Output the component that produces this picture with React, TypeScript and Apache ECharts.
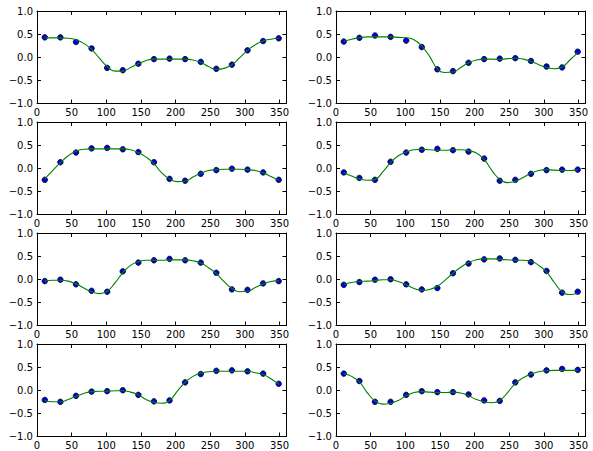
import React, { useEffect, useRef } from "react";
import * as echarts from "echarts";

const X_DOTS = [11.25, 33.75, 56.25, 78.75, 101.25, 123.75, 146.25, 168.75, 191.25, 213.75, 236.25, 258.75, 281.25, 303.75, 326.25, 348.75];
const X_CURVE = [11.25, 22.5, 33.75, 45, 56.25, 67.5, 78.75, 90, 101.25, 112.5, 123.75, 135, 146.25, 157.5, 168.75, 180, 191.25, 202.5, 213.75, 225, 236.25, 247.5, 258.75, 270, 281.25, 292.5, 303.75, 315, 326.25, 337.5, 348.75];

const X_TICKS = [0, 50, 100, 150, 200, 250, 300, 350];
const Y_TICKS = [-1.0, -0.5, 0.0, 0.5, 1.0];

const dots1 = [0.43, 0.43, 0.33, 0.19, -0.23, -0.28, -0.14, -0.04, -0.03, -0.04, -0.10, -0.25, -0.16, 0.15, 0.35, 0.41];
const dots2 = [0.34, 0.42, 0.47, 0.44, 0.36, 0.22, -0.26, -0.30, -0.12, -0.04, -0.03, -0.02, -0.08, -0.20, -0.22, 0.12];
const dots3 = [-0.25, 0.13, 0.34, 0.43, 0.44, 0.41, 0.35, 0.13, -0.23, -0.27, -0.12, -0.04, -0.01, -0.03, -0.09, -0.25];
const dots4 = [-0.09, -0.21, -0.25, 0.14, 0.34, 0.40, 0.42, 0.39, 0.36, 0.21, -0.27, -0.25, -0.12, -0.04, -0.03, -0.03];
const dots5 = [-0.04, -0.01, -0.11, -0.25, -0.27, 0.17, 0.36, 0.41, 0.44, 0.41, 0.36, 0.14, -0.22, -0.23, -0.09, -0.04];
const dots6 = [-0.12, -0.06, -0.01, 0.0, -0.11, -0.22, -0.19, 0.13, 0.34, 0.43, 0.45, 0.42, 0.37, 0.18, -0.29, -0.27];
const dots7 = [-0.21, -0.25, -0.12, -0.03, -0.02, 0.0, -0.10, -0.24, -0.22, 0.17, 0.35, 0.42, 0.43, 0.41, 0.36, 0.14];
const dots8 = [0.36, 0.20, -0.25, -0.25, -0.10, -0.02, -0.04, -0.04, -0.09, -0.22, -0.23, 0.17, 0.34, 0.43, 0.46, 0.44];

const curve1 = [0.42, 0.42, 0.42, 0.41, 0.38, 0.30, 0.17, -0.02, -0.20, -0.30, -0.30, -0.22, -0.14, -0.07, -0.04, -0.04, -0.04, -0.04, -0.04, -0.06, -0.11, -0.20, -0.26, -0.24, -0.16, -0.01, 0.15, 0.27, 0.35, 0.39, 0.41];
const curve2 = [0.34, 0.39, 0.42, 0.44, 0.44, 0.44, 0.44, 0.43, 0.42, 0.38, 0.24, 0.02, -0.25, -0.33, -0.32, -0.22, -0.12, -0.06, -0.04, -0.04, -0.05, -0.03, -0.02, -0.04, -0.09, -0.16, -0.22, -0.25, -0.21, -0.06, 0.10];
const curve3 = [-0.23, -0.05, 0.12, 0.27, 0.37, 0.41, 0.42, 0.42, 0.42, 0.42, 0.42, 0.40, 0.34, 0.24, 0.10, -0.10, -0.23, -0.29, -0.28, -0.19, -0.11, -0.05, -0.03, -0.02, -0.02, -0.02, -0.03, -0.05, -0.10, -0.18, -0.25];
const curve4 = [-0.09, -0.17, -0.23, -0.26, -0.24, -0.08, 0.12, 0.27, 0.35, 0.40, 0.41, 0.40, 0.39, 0.39, 0.40, 0.40, 0.38, 0.33, 0.19, -0.05, -0.24, -0.31, -0.28, -0.20, -0.11, -0.05, -0.03, -0.04, -0.05, -0.05, -0.03];
const curve5 = [-0.04, -0.02, -0.02, -0.04, -0.10, -0.19, -0.27, -0.31, -0.26, -0.08, 0.14, 0.30, 0.38, 0.41, 0.41, 0.41, 0.42, 0.42, 0.42, 0.40, 0.35, 0.25, 0.12, -0.05, -0.20, -0.27, -0.26, -0.18, -0.10, -0.05, -0.03];
const curve6 = [-0.11, -0.07, -0.05, -0.04, -0.03, -0.01, -0.01, -0.05, -0.12, -0.20, -0.24, -0.22, -0.15, -0.02, 0.13, 0.26, 0.36, 0.42, 0.44, 0.44, 0.43, 0.42, 0.41, 0.41, 0.39, 0.30, 0.16, -0.07, -0.27, -0.33, -0.31];
const curve7 = [-0.22, -0.25, -0.25, -0.20, -0.13, -0.07, -0.03, -0.02, -0.02, -0.01, -0.01, -0.04, -0.10, -0.20, -0.26, -0.28, -0.22, -0.02, 0.17, 0.30, 0.37, 0.40, 0.41, 0.41, 0.41, 0.41, 0.41, 0.38, 0.34, 0.25, 0.13];
const curve8 = [0.36, 0.30, 0.18, -0.05, -0.23, -0.30, -0.28, -0.22, -0.12, -0.05, -0.03, -0.04, -0.05, -0.05, -0.04, -0.06, -0.12, -0.20, -0.25, -0.27, -0.22, -0.05, 0.15, 0.27, 0.35, 0.40, 0.42, 0.43, 0.43, 0.43, 0.43];

const DOTS = [dots1, dots2, dots3, dots4, dots5, dots6, dots7, dots8];
const CURVES = [curve1, curve2, curve3, curve4, curve5, curve6, curve7, curve8];

const COL_LEFT = [37, 336];
const ROW_TOP = [11, 122, 233, 344];
const PANEL_W = 249.5;
const PANEL_H = 92.5;

const FONT = "DejaVu Sans";

function fmtY(v: number): string {
  const s = Math.abs(v).toFixed(1);
  return v < 0 ? "\u2212" + s : s;
}

export default function App() {
  const ref = useRef<HTMLDivElement>(null);
  useEffect(() => {
    if (!ref.current) return;
    const chart = echarts.init(ref.current, undefined, { renderer: "svg" });
    const grid: any[] = [];
    const xAxis: any[] = [];
    const yAxis: any[] = [];
    const series: any[] = [];
    const xInterval = X_TICKS[1] - X_TICKS[0];
    const yInterval = Y_TICKS[1] - Y_TICKS[0];
    for (let i = 0; i < 8; i++) {
      const r = Math.floor(i / 2);
      const c = i % 2;
      grid.push({ left: COL_LEFT[c], top: ROW_TOP[r], width: PANEL_W, height: PANEL_H, containLabel: false });
      const axisLine = { show: true, onZero: false, lineStyle: { color: "#000", width: 1 } };
      const tick = { show: true, inside: true, length: 4, lineStyle: { color: "#000", width: 1 } };
      ["bottom", "top"].forEach((pos, k) => {
        xAxis.push({
          type: "value",
          gridIndex: i,
          position: pos,
          min: 0,
          max: 360,
          interval: xInterval,
          axisLine,
          axisTick: tick,
          splitLine: { show: false },
          axisLabel: {
            show: k === 0,
            margin: 4,
            color: "#000",
            fontFamily: FONT,
            fontSize: 10,
            formatter: (v: number) => (v > X_TICKS[X_TICKS.length - 1] ? "" : String(v)),
          },
        });
      });
      ["left", "right"].forEach((pos, k) => {
        yAxis.push({
          type: "value",
          gridIndex: i,
          position: pos,
          min: Y_TICKS[0],
          max: Y_TICKS[Y_TICKS.length - 1],
          interval: yInterval,
          axisLine,
          axisTick: tick,
          splitLine: { show: false },
          axisLabel: {
            show: k === 0,
            margin: 4,
            color: "#000",
            fontFamily: FONT,
            fontSize: 10,
            formatter: (v: number) => fmtY(v),
          },
        });
      });
      series.push({
        type: "scatter",
        xAxisIndex: 2 * i,
        yAxisIndex: 2 * i,
        data: X_DOTS.map((x, j) => [x, DOTS[i][j]]),
        symbol: "circle",
        symbolSize: 5.5,
        itemStyle: { color: "#0000ee", borderColor: "#000", borderWidth: 0.8, opacity: 1 },
        z: 2,
      });
      series.push({
        type: "line",
        xAxisIndex: 2 * i,
        yAxisIndex: 2 * i,
        data: X_CURVE.map((x, j) => [x, CURVES[i][j]]),
        showSymbol: false,
        symbol: "none",
        smooth: 0.5,
        lineStyle: { color: "#008000", width: 1.1 },
        z: 3,
      });
    }
    chart.setOption({
      animation: false,
      backgroundColor: "#fff",
      grid,
      xAxis,
      yAxis,
      series,
    });
    return () => chart.dispose();
  }, []);
  return (
    <div
      ref={ref}
      style={{ position: "fixed", left: 0, top: 0, width: 593, height: 451, background: "#fff" }}
    />
  );
}
